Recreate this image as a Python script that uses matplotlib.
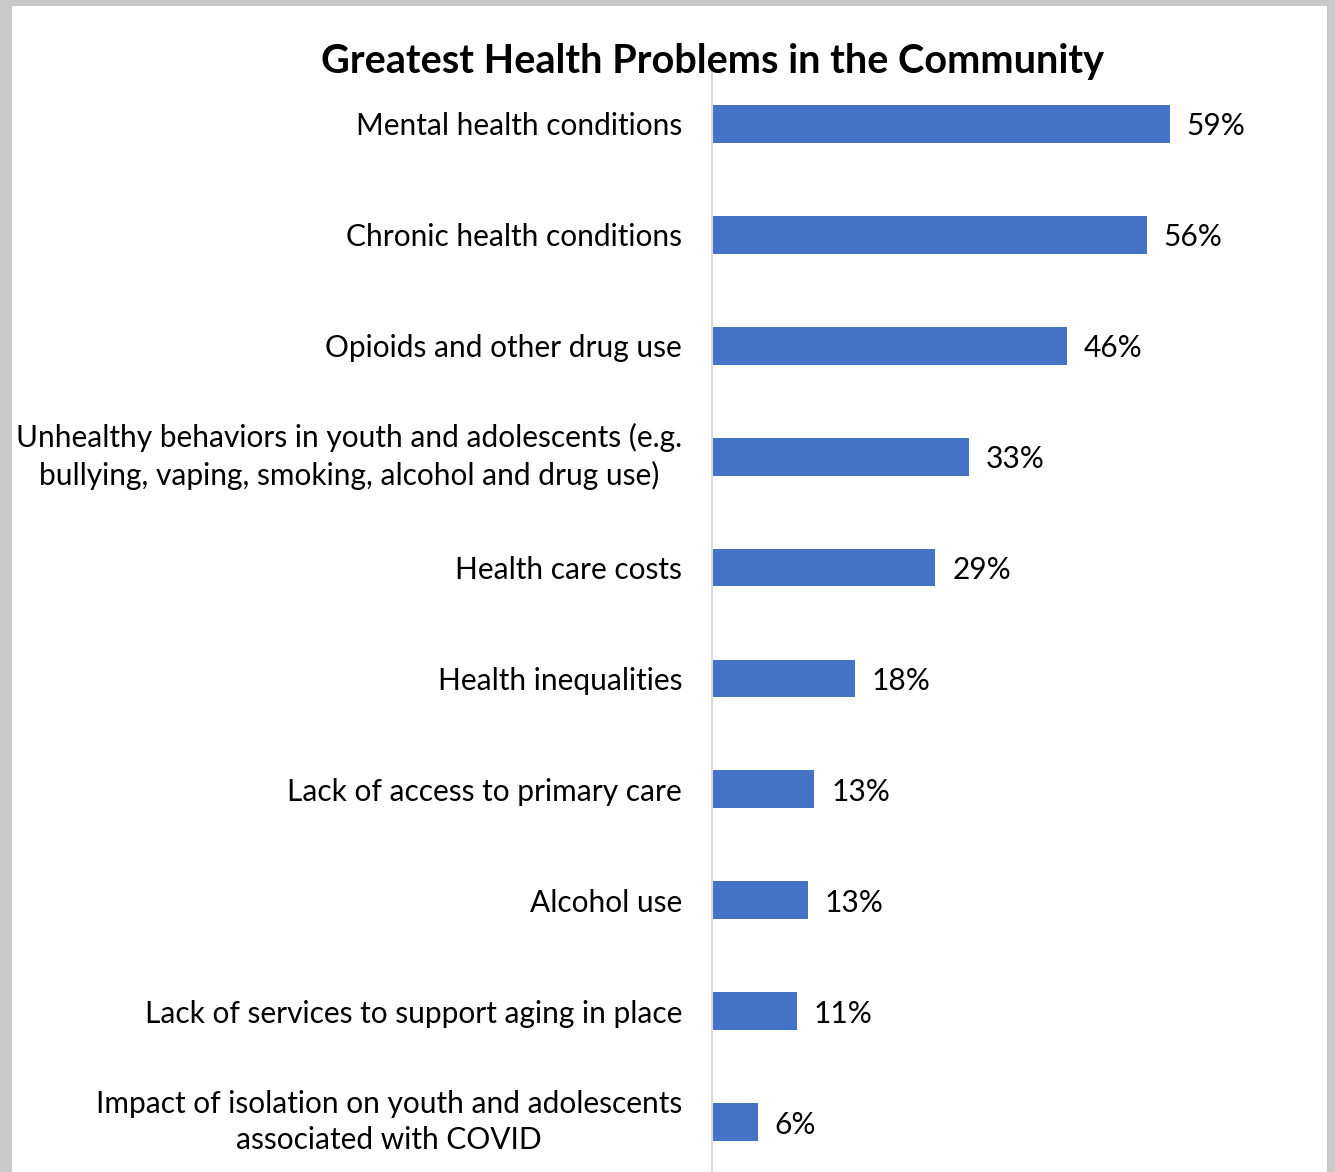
import matplotlib.pyplot as plt
from matplotlib.patches import Rectangle

# ----- data -----
categories = [
    "Mental health conditions",
    "Chronic health conditions",
    "Opioids and other drug use",
    "Unhealthy behaviors in youth and adolescents (e.g.\nbullying, vaping, smoking, alcohol and drug use)",
    "Health care costs",
    "Health inequalities",
    "Lack of access to primary care",
    "Alcohol use",
    "Lack of services to support aging in place",
    "Impact of isolation on youth and adolescents\nassociated with COVID",
]
# bar lengths as measured (the two 13% bars differ slightly)
values = [59, 56, 45.8, 33.1, 28.8, 18.4, 13.2, 12.4, 11, 5.9]
value_labels = ["59%", "56%", "46%", "33%", "29%", "18%", "13%", "13%", "11%", "6%"]

BAR_COLOR = "#4472C4"
W, H = 1335, 1172
FS = 21.5

plt.rcParams['font.family'] = ['Lato', 'DejaVu Sans']

fig = plt.figure(figsize=(W / 100, H / 100), dpi=100, facecolor="#c8c9c8")
# white chart area inside the grey window frame
fig.patches.append(Rectangle((12 / W, 0), (1327 - 12) / W, (H - 6) / H,
                             transform=fig.transFigure, facecolor="white",
                             edgecolor="none", zorder=-5))

# axes: x=712px at 0, 7.76 px per percent; rows 111 px apart
x0 = 712 / W
xmax = 75
ax = fig.add_axes([x0, (H - 1177.5) / H, xmax * 7.76 / W, 1109 / H])
ax.set_facecolor("none")
ax.set_zorder(2)

ypos = list(range(len(categories)))
bars = ax.barh(ypos, values, height=0.34, color=BAR_COLOR)
ax.set_ylim(len(categories) - 0.5, -0.5)
ax.set_xlim(0, xmax)

ax.set_yticks(ypos)
ax.set_yticklabels(categories, fontsize=FS, multialignment="center",
                   linespacing=1.38)
for lbl in ax.get_yticklabels():
    if "\n" in lbl.get_text():
        lbl.set_verticalalignment("center")
ax.tick_params(axis="y", length=0, pad=21.5)
ax.set_xticks([])

for s in ["top", "right", "bottom"]:
    ax.spines[s].set_visible(False)
ax.spines["left"].set_color("#d9d9d9")
ax.spines["left"].set_linewidth(1.5)
ax.spines["left"].set_bounds(-0.55, len(categories))

# value labels just right of each bar
for y, v, t in zip(ypos, values, value_labels):
    ax.annotate(t, (v, y), xytext=(12, 0), textcoords="offset points",
                ha="left", va="center_baseline", fontsize=FS)

fig.text(713 / W, 1 - 61 / H, "Greatest Health Problems in the Community",
         ha="center", va="center", fontsize=28.5, fontweight="bold")

fig.savefig("out.png", dpi=100, facecolor=fig.get_facecolor())
